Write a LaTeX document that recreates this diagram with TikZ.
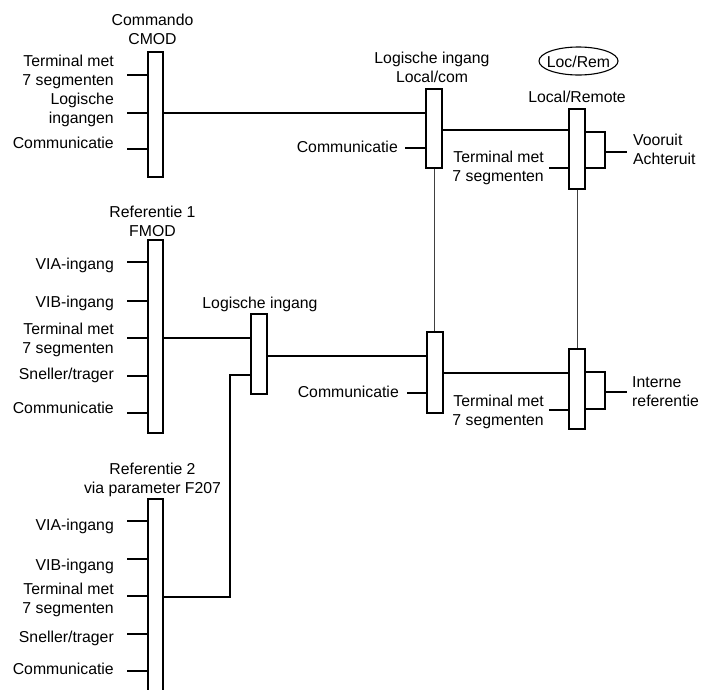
\documentclass[tikz,border=0pt]{standalone}
\usepackage{fontspec}
\setmainfont{Liberation Sans}
\begin{document}
\begin{tikzpicture}[x=1pt,y=-1pt,
  bar/.style={draw, line width=1.3pt, fill=white, inner sep=0, minimum width=15pt},
  brk/.style={draw, line width=1.3pt, inner sep=0, minimum width=20pt},
  wire/.style={line width=1.3pt},
  thinwire/.style={line width=0.9pt, black!75},
  txt/.style={inner sep=0, font=\fontsize{15.8}{19}\selectfont},
  lbl/.style={txt, align=right, anchor=east},
  lblc/.style={txt, align=center},
  lbll/.style={txt, align=left, anchor=west}]
\useasboundingbox (0,0) rectangle (704,689);
\clip (0,0) rectangle (704,689);

% brackets
\node[brk, minimum height=36pt] (ub) at (595,150) {};
\node[brk, minimum height=37pt] (lb) at (595,390.5) {};

% boxes
\node[bar, minimum height=125pt] (cmod) at (155.5,114.5) {};
\node[bar, minimum width=16pt, minimum height=79pt] (lc) at (434,128.5) {};
\node[bar, minimum width=16pt, minimum height=80pt] (lr) at (577,149) {};
\node[bar, minimum height=193pt] (fmod) at (155.5,336.5) {};
\node[bar, minimum width=16pt, minimum height=80pt] (li) at (259,354) {};
\node[bar, minimum width=16pt, minimum height=81pt] (mid) at (435,372.5) {};
\node[bar, minimum width=16pt, minimum height=80pt] (ir) at (577,389) {};
\node[bar, minimum height=230pt] (f207) at (155.5,614) {};

\node[txt] (locrem) at (578.5,62) {Loc/Rem};
\draw[line width=1.1pt] (578.5,61) ellipse [x radius=39.5pt, y radius=14pt];

% wires
\draw[wire] (cmod.east |- 0,113) -- (lc.west |- 0,113);
\draw[wire] (lc.east |- 0,130) -- (lr.west |- 0,130);
\draw[wire] (fmod.east |- 0,338) -- (li.west |- 0,338);
\draw[wire] (li.east |- 0,356) -- (mid.west |- 0,356);
\draw[wire] (mid.east |- 0,373) -- (ir.west |- 0,373);
\coordinate (bend) at (230,375);
\draw[wire] (f207.east |- 0,597) -| (bend) -- (li.west |- bend);
\draw[thinwire] (lc.south) -- (lc.south |- mid.north);
\draw[thinwire] (lr.south) -- (ir.north);

% bracket outputs
\coordinate (vo) at (627,152);
\coordinate (ie) at (627,392);
\draw[wire] (ub.east |- vo) -- (vo);
\draw[wire] (lb.east |- ie) -- (ie);

% input stubs
\foreach \y in {75,113,149} \draw[wire] (127,\y) -- (cmod.west |- 0,\y);
\foreach \y in {262,301,338,376,413} \draw[wire] (127,\y) -- (fmod.west |- 0,\y);
\foreach \y in {521,559,596,634,671} \draw[wire] (127,\y) -- (f207.west |- 0,\y);
\draw[wire] (405,148) -- (lc.west |- 0,148);
\draw[wire] (407,393) -- (mid.west |- 0,393);
\draw[wire] (549,168) -- (lr.west |- 0,168);
\draw[wire] (549,410) -- (ir.west |- 0,410);

% labels CMOD
\node[lblc] (t1) at (152.5,29.5) {Commando\\CMOD};
\node[lbl] (t2) at (114,72) {Terminal met\\7 segmenten};
\node[lbl] (t3) at (114,110) {Logische\\ingangen};
\node[lbl] (t4) at (114,143) {Communicatie};

% labels Local/com, Local/Remote
\node[lblc] (t5) at (432,67) {Logische ingang\\Local/com};
\node[lbl] (t6) at (398,147) {Communicatie};
\node[lblc] (t7) at (577,97) {Local/Remote};
\node[lbl] (t8) at (544,168) {Terminal met\\7 segmenten};
\node[lbll] (t9) at (633,149.5) {Vooruit\\Achteruit};

% labels FMOD
\node[lblc] (t10) at (152.5,221.5) {Referentie 1\\FMOD};
\node[lbl] (t11) at (114,265) {VIA-ingang};
\node[lbl] (t12) at (114,303) {VIB-ingang};
\node[lbl] (t13) at (114,340) {Terminal met\\7 segmenten};
\node[lbl] (t14) at (114,375) {Sneller/trager};
\node[lbl] (t15) at (114,408) {Communicatie};

\node[lblc] (t16) at (260,304) {Logische ingang};
\node[lbl] (t17) at (399,392) {Communicatie};
\node[lbl] (t18) at (544,412) {Terminal met\\7 segmenten};
\node[lbll] (t19) at (632,391.5) {Interne\\referentie};

% labels F207
\node[lblc] (t20) at (152.5,479.5) {Referentie 2\\via parameter F207};
\node[lbl] (t21) at (114,526) {VIA-ingang};
\node[lbl] (t22) at (114,566) {VIB-ingang};
\node[lbl] (t23) at (114,600) {Terminal met\\7 segmenten};
\node[lbl] (t24) at (114,638) {Sneller/trager};
\node[lbl] (t25) at (114,669) {Communicatie};
\end{tikzpicture}
\end{document}
